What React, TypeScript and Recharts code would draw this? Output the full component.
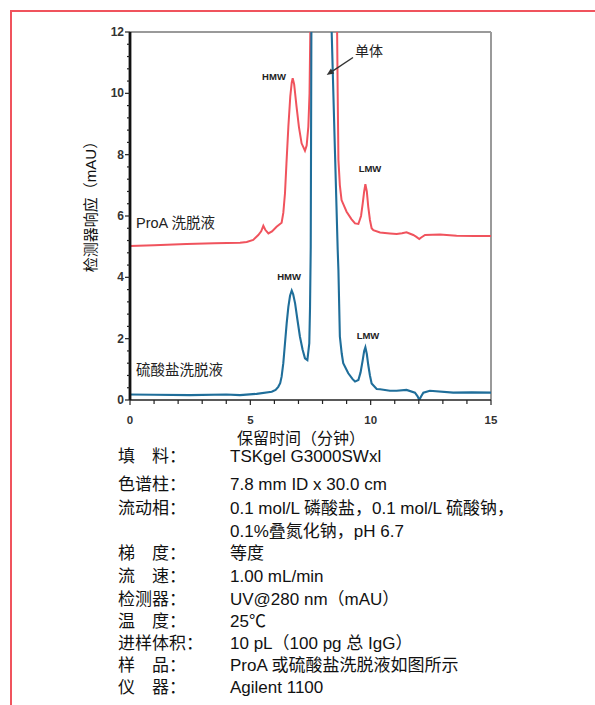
import React from 'react';
import { LineChart, Line, XAxis, YAxis, ReferenceLine, ReferenceDot, Label } from 'recharts';

// ProA eluate trace (red)
const PROA_TIME = [0, 1, 2.35, 3.5, 4.57, 4.85, 5.12, 5.33, 5.45, 5.54, 5.62, 5.75, 5.9, 6.09, 6.3, 6.37, 6.44, 6.5, 6.58, 6.66, 6.72, 6.76, 6.82, 6.92, 7.02, 7.13, 7.27, 7.34, 7.41, 7.46, 7.5, 7.6, 8.0, 8.5, 8.6, 8.63, 8.66, 8.72, 8.79, 9.0, 9.2, 9.35, 9.49, 9.6, 9.67, 9.73, 9.78, 9.84, 9.9, 9.97, 10.04, 10.11, 10.39, 10.8, 11.08, 11.3, 11.49, 11.77, 11.9, 12.02, 12.1, 12.26, 12.88, 13.57, 14.3, 15];
const PROA_MAU = [5.02, 5.05, 5.09, 5.11, 5.13, 5.15, 5.22, 5.38, 5.5, 5.68, 5.55, 5.43, 5.5, 5.65, 5.78, 6.1, 6.74, 7.7, 8.91, 9.9, 10.35, 10.49, 10.3, 9.57, 8.9, 8.37, 8.13, 8.3, 8.91, 10.0, 12.5, 25, 40, 25, 12.5, 10, 7.83, 7.0, 6.52, 6.14, 5.9, 5.76, 5.74, 6.0, 6.41, 6.8, 7.04, 6.8, 6.3, 5.87, 5.6, 5.54, 5.46, 5.43, 5.41, 5.44, 5.47, 5.38, 5.32, 5.25, 5.3, 5.38, 5.4, 5.36, 5.35, 5.35];

// Sulfate eluate trace (blue)
const SULFATE_TIME = [0, 1, 2.5, 4, 4.57, 5.26, 5.89, 6.05, 6.16, 6.24, 6.3, 6.37, 6.44, 6.51, 6.58, 6.65, 6.72, 6.78, 6.86, 6.96, 7.06, 7.17, 7.27, 7.37, 7.45, 7.48, 7.51, 7.54, 7.6, 8.0, 8.3, 8.38, 8.52, 8.63, 8.66, 8.72, 8.8, 8.86, 9.07, 9.25, 9.35, 9.49, 9.58, 9.67, 9.73, 9.78, 9.84, 9.9, 9.97, 10.04, 10.25, 10.39, 10.8, 11.08, 11.49, 11.84, 11.95, 12.02, 12.1, 12.19, 12.46, 13.43, 14.2, 15];
const SULFATE_MAU = [0.18, 0.17, 0.16, 0.18, 0.16, 0.2, 0.27, 0.33, 0.43, 0.55, 0.76, 1.2, 1.85, 2.5, 3.04, 3.4, 3.57, 3.45, 3.15, 2.6, 2.07, 1.65, 1.36, 1.3, 1.85, 3.0, 5.0, 13, 30, 45, 20, 12, 8, 4.9, 4.24, 2.07, 1.5, 1.2, 0.87, 0.68, 0.6, 0.65, 0.9, 1.3, 1.6, 1.72, 1.5, 1.14, 0.8, 0.54, 0.36, 0.35, 0.3, 0.3, 0.33, 0.24, 0.12, 0.0, 0.12, 0.24, 0.3, 0.24, 0.25, 0.24];

const X_TICKS = [0, 1, 2, 3, 4, 5, 6, 7, 8, 9, 10, 11, 12, 13, 14, 15];
const X_LABELS = [0, 5, 10, 15];
const Y_TICKS = [0, 0.4, 0.8, 1.2, 1.6, 2, 2.4, 2.8, 3.2, 3.6, 4, 4.4, 4.8, 5.2, 5.6, 6, 6.4, 6.8, 7.2, 7.6, 8, 8.4, 8.8, 9.2, 9.6, 10, 10.4, 10.8, 11.2, 11.6, 12];
const Y_LABELS = [0, 2, 4, 6, 8, 10, 12];

const X_TITLE = '保留时间（分钟）';
const Y_TITLE = '检测器响应（mAU）';

const PARAM_LABELS = ['填　料：', '色谱柱：', '流动相：', '', '梯　度：', '流　速：', '检测器：', '温　度：', '进样体积：', '样　品：', '仪　器：'];
const PARAM_VALUES = ['TSKgel G3000SWxl', '7.8 mm ID x 30.0 cm', '0.1 mol/L 磷酸盐，0.1 mol/L 硫酸钠，', '0.1%叠氮化钠，pH 6.7', '等度', '1.00 mL/min', 'UV@280 nm（mAU）', '25℃', '10 pL（100 pg 总 IgG）', 'ProA 或硫酸盐洗脱液如图所示', 'Agilent 1100'];

// layout (row centres in page px)
const ROW_CENTERS = [457, 485, 509, 532, 554, 577, 600, 622, 644, 666, 688];

const proaData = PROA_TIME.map((t, i) => ({ t, v: PROA_MAU[i] }));
const sulfateData = SULFATE_TIME.map((t, i) => ({ t, v: SULFATE_MAU[i] }));

const FONT = "'Liberation Sans', Arial, 'Noto Sans CJK SC', sans-serif";
const RED = '#f0535d';
const BLUE = '#1f6e9a';

const XTick = (props: any) => {
  const { x, y, payload } = props;
  const v = payload.value;
  const major = X_LABELS.includes(v);
  return (
    <g>
      <line x1={x} x2={x} y1={y} y2={y + (major ? 5 : 4)} stroke="#222" strokeWidth={1.2} />
      {major && (
        <text x={x} y={y + 20} textAnchor="middle" dominantBaseline="central" fontSize={11.5} fontWeight="bold" fontFamily={FONT} fill="#333">
          {v}
        </text>
      )}
    </g>
  );
};

const YTick = (props: any) => {
  const { x, y, payload } = props;
  const v = payload.value;
  const r = Math.round(v);
  const major = Math.abs(v - r) < 1e-6 && Y_LABELS.includes(r);
  return (
    <g>
      <line x1={x - (major ? 5 : 3)} x2={x} y1={y} y2={y} stroke="#222" strokeWidth={1.2} />
      {major && (
        <text x={x - 6} y={y} textAnchor="end" dominantBaseline="central" fontSize={12} fontWeight="bold" fontFamily={FONT} fill="#333">
          {r}
        </text>
      )}
    </g>
  );
};

const ArrowShape = (p: any) => {
  const { x1, y1, x2, y2 } = p;
  const ang = Math.atan2(y2 - y1, x2 - x1);
  const L = 7;
  const W = 3;
  const bx = x2 - L * Math.cos(ang);
  const by = y2 - L * Math.sin(ang);
  const nx = -Math.sin(ang) * W;
  const ny = Math.cos(ang) * W;
  return (
    <g>
      <line x1={x1} y1={y1} x2={bx} y2={by} stroke="#333" strokeWidth={1.4} />
      <polygon points={`${x2},${y2} ${bx + nx},${by + ny} ${bx - nx},${by - ny}`} fill="#333" />
    </g>
  );
};

const note = (key: string, x: number, y: number, text: string, size: number, weight: string, anchor: string) => (
  <ReferenceDot
    key={key}
    x={x}
    y={y}
    r={0}
    fill="none"
    stroke="none"
    label={(p: any) => {
      const vb = p.viewBox || {};
      return (
        <text x={vb.x} y={vb.y} textAnchor={anchor} dominantBaseline="central" fontSize={size} fontWeight={weight} fontFamily={FONT} fill="#222">
          {text}
        </text>
      );
    }}
  />
);

export default function App() {
  return (
    <div style={{ position: 'absolute', left: 0, top: 0, width: 595, height: 705, overflow: 'hidden', background: '#fff' }}>
      <div style={{ position: 'absolute', left: 10, top: 10, width: 700, height: 800, borderLeft: `2px solid ${RED}`, borderTop: `2px solid ${RED}` }} />
      <div style={{ position: 'absolute', left: 0, top: 0 }}>
        <LineChart width={595} height={460} margin={{ top: 32, right: 104, bottom: 30, left: 90 }}>
          <XAxis
            type="number"
            dataKey="t"
            domain={[0, 15]}
            ticks={X_TICKS}
            interval={0}
            tickSize={0}
            tickMargin={0}
            tick={XTick}
            height={30}
            axisLine={{ stroke: '#222', strokeWidth: 1.5 }}
            allowDataOverflow
          >
            <Label
              content={() => (
                <text x={301} y={438} textAnchor="middle" dominantBaseline="central" fontSize={16} fontFamily={FONT} fill="#111">
                  {X_TITLE}
                </text>
              )}
            />
          </XAxis>
          <YAxis
            type="number"
            domain={[0, 12]}
            ticks={Y_TICKS}
            interval={0}
            tickSize={0}
            tickMargin={0}
            tick={YTick}
            width={40}
            axisLine={{ stroke: '#111', strokeWidth: 2.8 }}
            allowDataOverflow
          >
            <Label
              content={() => (
                <text x={90} y={203} transform="rotate(-90 90 203)" textAnchor="middle" dominantBaseline="central" fontSize={15} fontFamily={FONT} fill="#111">
                  {Y_TITLE}
                </text>
              )}
            />
          </YAxis>
          <ReferenceLine y={12} stroke="#9a9a9a" strokeWidth={2} />
          <ReferenceLine x={15} stroke="#9a9a9a" strokeWidth={2} />
          <Line data={proaData} dataKey="v" type="linear" dot={false} stroke={RED} strokeWidth={2} isAnimationActive={false} />
          <Line data={sulfateData} dataKey="v" type="linear" dot={false} stroke={BLUE} strokeWidth={2.1} isAnimationActive={false} />
          {note('hmw1', 5.983, 10.565, 'HMW', 9.5, 'bold', 'middle')}
          {note('hmw2', 6.607, 4.043, 'HMW', 9.5, 'bold', 'middle')}
          {note('lmw1', 9.972, 7.565, 'LMW', 9.5, 'bold', 'middle')}
          {note('lmw2', 9.889, 2.087, 'LMW', 9.5, 'bold', 'middle')}
          {note('mono', 9.93, 11.38, '单体', 14, 'normal', 'middle')}
          {note('proa', 0.249, 5.772, 'ProA 洗脱液', 14.5, 'normal', 'start')}
          {note('sulf', 0.249, 0.978, '硫酸盐洗脱液', 14.5, 'normal', 'start')}
          <ReferenceLine segment={[{ x: 9.266, y: 11.168 }, { x: 8.173, y: 10.598 }]} shape={ArrowShape} />
        </LineChart>
      </div>
      {PARAM_VALUES.map((val, i) => (
        <div key={i} style={{ position: 'absolute', left: 0, top: ROW_CENTERS[i] - 11, height: 22, lineHeight: '22px', fontSize: 17, fontFamily: FONT, color: '#111', whiteSpace: 'nowrap' }}>
          <span style={{ position: 'absolute', left: 118 }}>{PARAM_LABELS[i]}</span>
          <span style={{ position: 'absolute', left: 230 }}>{val}</span>
        </div>
      ))}
    </div>
  );
}
